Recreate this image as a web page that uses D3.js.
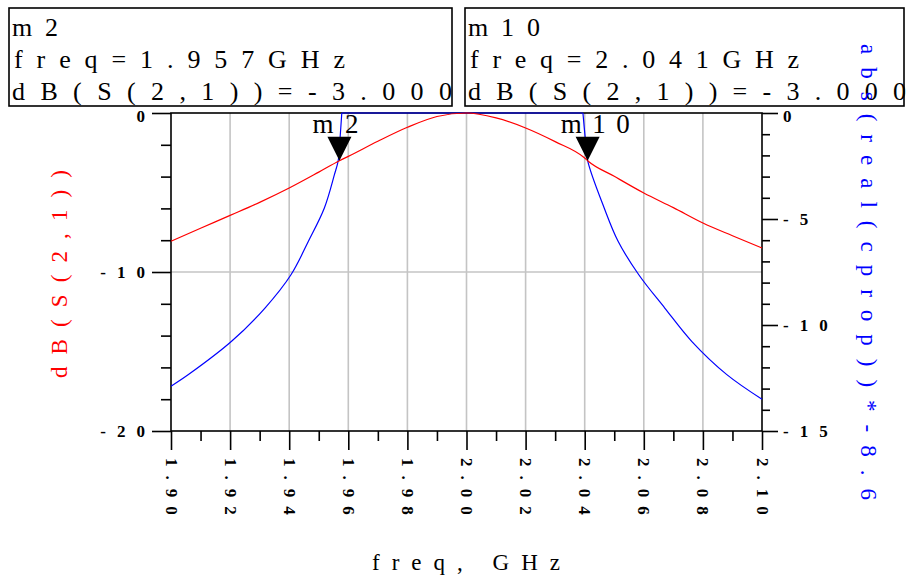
<!DOCTYPE html>
<meta charset="utf-8">
<style>
body { margin: 0; background: #fff; }
text { font-family: "Liberation Serif", serif; }
</style>
<svg width="906" height="575"></svg>
<script src="https://d3js.org/d3.v7.min.js"></script>
<script>

// dB(S(2,1))
var freqS21 = [1.90, 1.91, 1.92, 1.93, 1.94, 1.95, 1.957, 1.96, 1.97, 1.98, 1.99, 2.00,
               2.01, 2.02, 2.03, 2.04, 2.041, 2.05, 2.06, 2.07, 2.08, 2.09, 2.10];
var dbS21 = [-8.07, -7.25, -6.44, -5.62, -4.72, -3.72, -3.00, -2.73, -1.78, -0.90, -0.22, 0,
             -0.31, -0.94, -1.80, -2.83, -3.00, -3.98, -5.03, -5.95, -6.92, -7.72, -8.49];

// abs(real(cprop))*-8.6
var freqProp = [1.900, 1.9059, 1.9205, 1.9318, 1.9406, 1.9465, 1.9519, 1.9553, 1.9566, 1.9572, 1.9578,
                2.0394, 2.0402, 2.041, 2.0466, 2.0513, 2.0583, 2.0671, 2.0762, 2.0881, 2.100];
var cprop = [-12.89, -12.34, -10.77, -9.20, -7.63, -6.05, -4.48, -2.91, -2.23, -1.2, 0,
             0, -1.2, -2.25, -4.48, -6.05, -7.63, -9.20, -10.77, -12.34, -13.5];

var markerNames = ["m2", "m10"];
var markerFreq = [1.957, 2.041];
var markerDb = [-3.000, -3.000];

var xMajor = [1.90, 1.92, 1.94, 1.96, 1.98, 2.00, 2.02, 2.04, 2.06, 2.08, 2.10];
var xMinor = [1.91, 1.93, 1.95, 1.97, 1.99, 2.01, 2.03, 2.05, 2.07, 2.09];
var yLeftMajor = [0, -10, -20];
var yLeftMinor = [-2, -4, -6, -8, -12, -14, -16, -18];
var yRightMajor = [0, -5, -10, -15];
var yRightMinor = [-1, -2, -3, -4, -6, -7, -8, -9, -11, -12, -13, -14];

var svg = d3.select("svg");
var x = d3.scaleLinear().domain([1.90, 2.10]).range([171, 762]);
var yL = d3.scaleLinear().domain([-20, 0]).range([431, 113]);
var yR = d3.scaleLinear().domain([-15, 0]).range([431, 113]);

// grid
svg.append("g").selectAll("line").data(xMajor.slice(1, -1)).enter().append("line")
    .attr("x1", d => x(d)).attr("x2", d => x(d)).attr("y1", 113).attr("y2", 431)
    .attr("stroke", "#c4c4c4").attr("stroke-width", 1.6);
svg.append("line").attr("x1", 171).attr("x2", 762).attr("y1", yL(-10)).attr("y2", yL(-10))
    .attr("stroke", "#c4c4c4").attr("stroke-width", 1.6);

function styleAxis(g) {
  g.select(".domain").remove();
  g.selectAll("line").attr("stroke", "#000").attr("stroke-width", 1.6);
  g.selectAll("text").attr("fill", "#000").style("font-size", "17px").style("font-weight", "bold")
    .style("font-family", "Liberation Serif").style("letter-spacing", "9px");
}

// left axis
svg.append("g").attr("transform", "translate(171,0)")
    .call(d3.axisLeft(yL).tickValues(yLeftMinor).tickSize(10).tickFormat(""))
    .call(styleAxis);
svg.append("g").attr("transform", "translate(171,0)")
    .call(d3.axisLeft(yL).tickValues(yLeftMajor).tickSize(19).tickFormat(d => String(d)))
    .call(styleAxis)
    .selectAll("text").attr("x", -15).style("letter-spacing", "11px")
      .attr("dy", d => d == 0 ? "0.5em" : "0.32em");

// right axis
svg.append("g").attr("transform", "translate(762,0)")
    .call(d3.axisRight(yR).tickValues(yRightMinor).tickSize(8).tickFormat(""))
    .call(styleAxis);
svg.append("g").attr("transform", "translate(762,0)")
    .call(d3.axisRight(yR).tickValues(yRightMajor).tickSize(16).tickFormat(d => String(d)))
    .call(styleAxis)
    .selectAll("text").attr("x", 21).style("letter-spacing", "11px")
      .attr("dy", d => d == 0 ? "0.5em" : "0.32em");

// bottom axis
svg.append("g").attr("transform", "translate(0,431)")
    .call(d3.axisBottom(x).tickValues(xMinor).tickSize(10).tickFormat(""))
    .call(styleAxis);
svg.append("g").attr("transform", "translate(0,431)")
    .call(d3.axisBottom(x).tickValues(xMajor).tickSize(19).tickFormat(d3.format(".2f")))
    .call(styleAxis)
    .selectAll("text")
      .attr("transform", "rotate(90)")
      .attr("x", 27).attr("y", 0).attr("dy", "0.35em")
      .style("text-anchor", "start");

// frame
svg.append("rect").attr("x", 171).attr("y", 113).attr("width", 591).attr("height", 318)
    .attr("fill", "none").attr("stroke", "#000").attr("stroke-width", 1.6);

// curves
var lineS21 = d3.line().x(d => x(d[0])).y(d => yL(d[1])).curve(d3.curveMonotoneX);
var lineProp = d3.line().x(d => x(d[0])).y(d => yR(d[1])).curve(d3.curveCatmullRom.alpha(0.5));

// the propagation curve is split where it reaches 0 (passband), so the flat top stays flat
var prop = d3.zip(freqProp, cprop);
var z0 = cprop.indexOf(0), z1 = cprop.lastIndexOf(0);
[prop.slice(0, z0 + 1), prop.slice(z0, z1 + 1), prop.slice(z1)].forEach(function(seg) {
  svg.append("path").datum(seg).attr("d", lineProp)
      .attr("fill", "none").attr("stroke", "#0000ff").attr("stroke-width", 1.2);
});
svg.append("path").datum(d3.zip(freqS21, dbS21)).attr("d", lineS21)
    .attr("fill", "none").attr("stroke", "#ff0000").attr("stroke-width", 1.2);

// markers
markerNames.forEach(function(name, i) {
  var mx = x(markerFreq[i]), my = yL(markerDb[i]);
  svg.append("path")
      .attr("d", "M" + mx + "," + my + "L" + (mx - 12) + "," + (my - 24) + "L" + (mx + 12) + "," + (my - 24) + "Z")
      .attr("fill", "#000");
  svg.append("text").attr("x", mx - 27).attr("y", 133)
      .attr("textLength", name.length * 23).attr("lengthAdjust", "spacing")
      .style("font-size", "27px").text(name);
});

// marker readout boxes
var boxes = [
  {x: 9, w: 443, lines: ["m2", "freq=1.957GHz", "dB(S(2,1))=-3.000"], lens: [46, 331, 440]},
  {x: 465, w: 439, lines: ["m10", "freq=2.041GHz", "dB(S(2,1))=-3.000"], lens: [72, 329, 438]}
];
boxes.forEach(function(b) {
  svg.append("rect").attr("x", b.x).attr("y", 8).attr("width", b.w).attr("height", 98)
      .attr("fill", "#fff").attr("stroke", "#000").attr("stroke-width", 1.6);
  b.lines.forEach(function(t, j) {
    svg.append("text").attr("x", b.x + 3 + (j == 1 ? 2 : 0)).attr("y", 36 + j * 32)
        .attr("textLength", b.lens[j]).attr("lengthAdjust", "spacing")
        .style("font-size", "26px").attr("fill", "#000").text(t);
  });
});

// axis titles
svg.append("text").attr("transform", "translate(67,274) rotate(-90)")
    .attr("text-anchor", "middle").attr("textLength", 208).attr("lengthAdjust", "spacing")
    .attr("fill", "#ff0000").style("font-size", "23px").text("dB(S(2,1))");
svg.append("text").attr("transform", "translate(861,272) rotate(90)")
    .attr("text-anchor", "middle").attr("textLength", 456).attr("lengthAdjust", "spacing")
    .attr("fill", "#0000ff").style("font-size", "23px").text("abs(real(cprop))*-8.6");
svg.append("text").attr("x", 466).attr("y", 570)
    .attr("text-anchor", "middle").attr("textLength", 188).attr("lengthAdjust", "spacing")
    .attr("fill", "#000").style("font-size", "23px").text("freq, GHz");

</script>
